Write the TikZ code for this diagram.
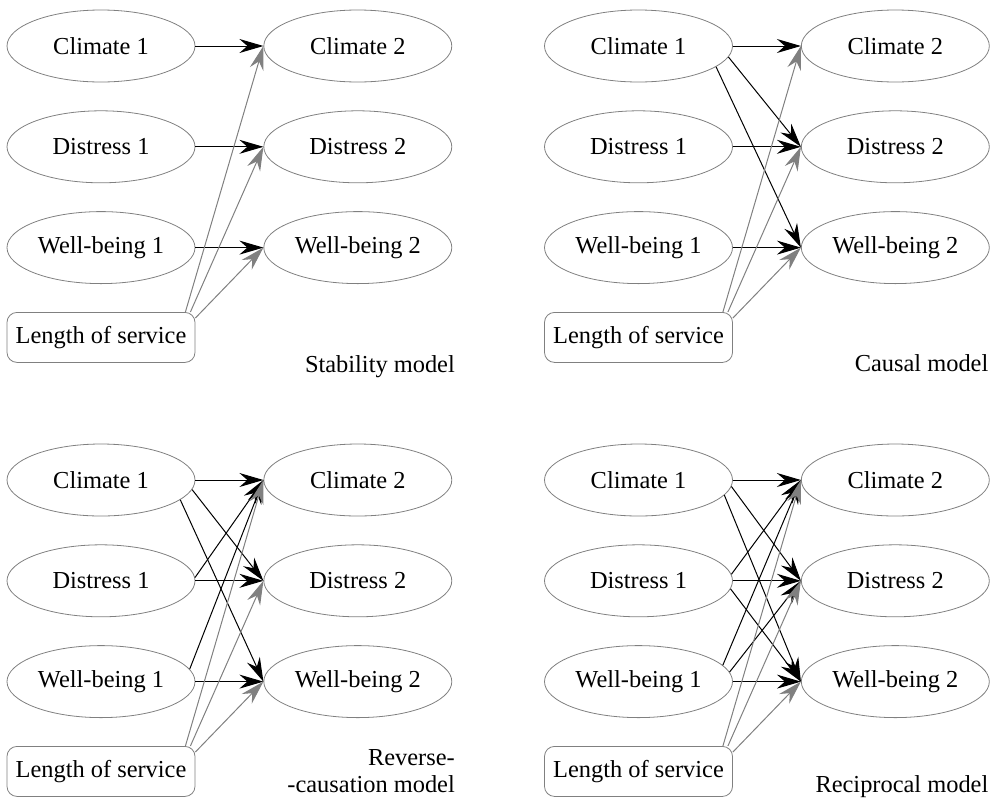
\documentclass[tikz,border=0pt]{standalone}
\usepackage{fontspec}
\setmainfont{Liberation Serif}
\usepackage{tikz}
\usetikzlibrary{positioning}
\usetikzlibrary{shapes.geometric}
\usetikzlibrary{arrows.meta}

\begin{document}
\begin{tikzpicture}[
  x=1pt, y=1pt,
  node distance=14pt and 34pt,
  font=\fontsize{12.2}{13.5}\selectfont,
  varnode/.style={draw=gray,line width=0.4pt,ellipse,minimum width=94pt,minimum height=36pt,inner sep=0pt},
  losnode/.style={draw=gray,line width=0.4pt,rounded corners=5pt,minimum width=94pt,minimum height=25pt,inner sep=0pt},
  blk/.style={line width=0.5pt,draw=black,-{Stealth[length=12pt,width=7pt,inset=4pt]}},
  gry/.style={line width=0.5pt,draw=gray,-{Stealth[length=12pt,width=7pt,inset=4pt]}}
]
\useasboundingbox (0,0) rectangle (499.5,-399);

% stability model
\begin{scope}[shift={(50.5,-23)}]
\node[varnode] (sc1) at (0,0) {Climate 1};
\node[varnode,below=of sc1] (sd1) {Distress 1};
\node[varnode,below=of sd1] (sw1) {Well-being 1};
\node[losnode,below=of sw1] (slos) {Length of service};
\node[varnode,right=of sc1] (sc2) {Climate 2};
\node[varnode,right=of sd1] (sd2) {Distress 2};
\node[varnode,right=of sw1] (sw2) {Well-being 2};
\node[anchor=base east,inner sep=0pt] (slab) at ([xshift=1.5pt,yshift=-5pt]sw2.east |- slos.south) {Stability model};

\path (sc1.east) edge[blk] (sc2.west)
(sd1.east) edge[blk] (sd2.west)
(sw1.east) edge[blk] (sw2.west)
([xshift=-5pt]slos.north east) edge[gry] (sc2.west)
([xshift=-2.5pt]slos.north east) edge[gry] (sd2.west)
([yshift=-3pt]slos.north east) edge[gry] (sw2.west)
;
\end{scope}

% causal model
\begin{scope}[shift={(319.25,-23)}]
\node[varnode] (cc1) at (0,0) {Climate 1};
\node[varnode,below=of cc1] (cd1) {Distress 1};
\node[varnode,below=of cd1] (cw1) {Well-being 1};
\node[losnode,below=of cw1] (clos) {Length of service};
\node[varnode,right=of cc1] (cc2) {Climate 2};
\node[varnode,right=of cd1] (cd2) {Distress 2};
\node[varnode,right=of cw1] (cw2) {Well-being 2};
\node[anchor=base east,inner sep=0pt] (clab) at ([xshift=-0.5pt,yshift=-4.5pt]cw2.east |- clos.south) {Causal model};

\path (cc1.east) edge[blk] (cc2.west)
(cd1.east) edge[blk] (cd2.west)
(cw1.east) edge[blk] (cw2.west)
(cc1.-7) edge[blk] (cd2.west)
(cc1.-15) edge[blk] (cw2.west)
([xshift=-5pt]clos.north east) edge[gry] (cc2.west)
([xshift=-2.5pt]clos.north east) edge[gry] (cd2.west)
([yshift=-3pt]clos.north east) edge[gry] (cw2.west)
;
\end{scope}

% reverse-causation model
\begin{scope}[shift={(50.5,-240)}]
\node[varnode] (rc1) at (0,0) {Climate 1};
\node[varnode,below=of rc1] (rd1) {Distress 1};
\node[varnode,below=of rd1] (rw1) {Well-being 1};
\node[losnode,below=of rw1] (rlos) {Length of service};
\node[varnode,right=of rc1] (rc2) {Climate 2};
\node[varnode,right=of rd1] (rd2) {Distress 2};
\node[varnode,right=of rw1] (rw2) {Well-being 2};
\node[anchor=base east,inner sep=0pt,align=right] (rlab) at ([xshift=1.5pt,yshift=2pt]rw2.east |- rlos.south) {Reverse-\\-causation model};

\path (rc1.east) edge[blk] (rc2.west)
(rd1.east) edge[blk] (rd2.west)
(rw1.east) edge[blk] (rw2.west)
(rc1.-6) edge[blk] (rd2.west)
(rc1.-14) edge[blk] (rw2.west)
(rd1.2) edge[blk] (rc2.west)
(rw1.8) edge[blk] (rc2.west)
([xshift=-5pt]rlos.north east) edge[gry] (rc2.west)
([xshift=-2.5pt]rlos.north east) edge[gry] (rd2.west)
([yshift=-3pt]rlos.north east) edge[gry] (rw2.west)
;
\end{scope}

% reciprocal model
\begin{scope}[shift={(319.25,-240)}]
\node[varnode] (pc1) at (0,0) {Climate 1};
\node[varnode,below=of pc1] (pd1) {Distress 1};
\node[varnode,below=of pd1] (pw1) {Well-being 1};
\node[losnode,below=of pw1] (plos) {Length of service};
\node[varnode,right=of pc1] (pc2) {Climate 2};
\node[varnode,right=of pd1] (pd2) {Distress 2};
\node[varnode,right=of pw1] (pw2) {Well-being 2};
\node[anchor=base east,inner sep=0pt] (plab) at ([xshift=-0.5pt,yshift=2pt]pw2.east |- plos.south) {Reciprocal model};

\path (pc1.east) edge[blk] (pc2.west)
(pd1.east) edge[blk] (pd2.west)
(pw1.east) edge[blk] (pw2.west)
(pc1.-4) edge[blk] (pd2.west)
(pc1.-10) edge[blk] (pw2.west)
(pd1.4) edge[blk] (pc2.west)
(pd1.-5) edge[blk] (pw2.west)
(pw1.11) edge[blk] (pc2.west)
(pw1.6) edge[blk] (pd2.west)
([xshift=-5pt]plos.north east) edge[gry] (pc2.west)
([xshift=-2.5pt]plos.north east) edge[gry] (pd2.west)
([yshift=-3pt]plos.north east) edge[gry] (pw2.west)
;
\end{scope}

\end{tikzpicture}
\end{document}
